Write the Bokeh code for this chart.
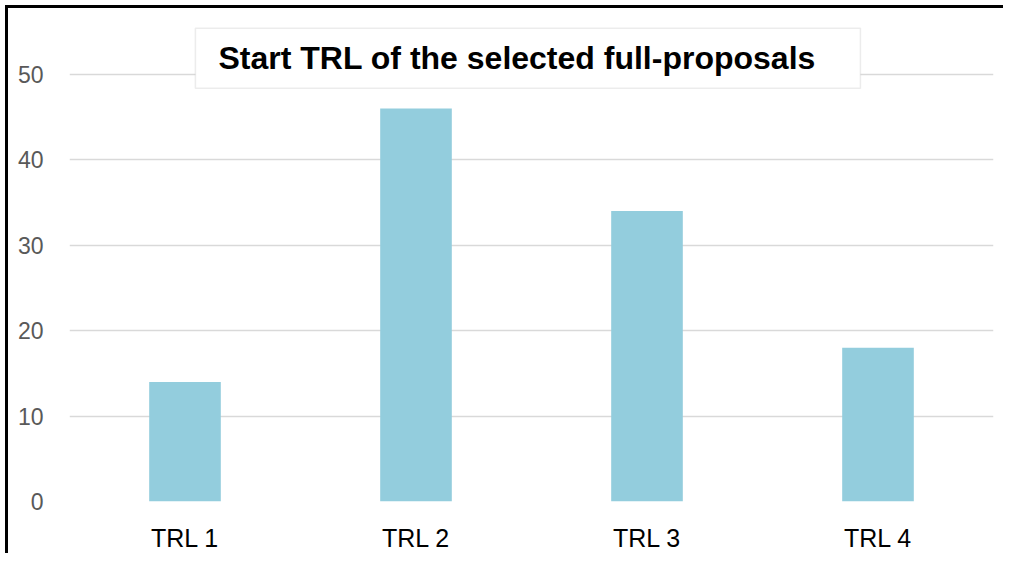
from bokeh.plotting import figure
from bokeh.models import Range1d, FactorRange, FixedTicker, BoxAnnotation, Label
from bokeh.embed import file_html
from bokeh.resources import INLINE

categories = ["TRL 1", "TRL 2", "TRL 3", "TRL 4"]
values = [14, 46, 34, 18]
y_ticks = [0, 10, 20, 30, 40, 50]
title_text = "Start TRL of the selected full-proposals"

p = figure(width=998, height=548, x_range=FactorRange(*categories, range_padding=0),
           y_range=Range1d(0, 56.3), output_backend="svg", toolbar_location=None,
           min_border_left=61, min_border_right=13, min_border_top=12, min_border_bottom=55)
p.styles = {"box-shadow": "-3px -3px 0px 0px black", "background-color": "white",
            "margin-left": "8px", "margin-top": "8px"}
p.outline_line_color = None
p.background_fill_color = "white"

p.vbar(x=categories, top=values, width=0.31, color="#93CDDD", line_color=None)

p.yaxis.ticker = FixedTicker(ticks=y_ticks)
p.yaxis.axis_line_color = None
p.yaxis.major_tick_line_color = None
p.yaxis.minor_tick_line_color = None
p.yaxis.major_label_text_font = "Liberation Sans"
p.yaxis.major_label_text_font_size = "23px"
p.yaxis.major_label_text_color = "#595959"
p.yaxis.major_label_standoff = 20

p.xaxis.axis_line_color = None
p.xaxis.major_tick_line_color = None
p.xaxis.major_label_text_font = "Liberation Sans"
p.xaxis.major_label_text_font_size = "25px"
p.xaxis.major_label_text_color = "#000000"
p.xaxis.major_label_standoff = 16

p.xgrid.grid_line_color = None
p.ygrid.grid_line_color = "#D9D9D9"
p.ygrid.grid_line_width = 1.5

box = BoxAnnotation(left=0.545, right=3.424, top=55.39, bottom=48.36,
                    fill_color="white", fill_alpha=1.0, line_color="#BFBFBF", line_width=1.5)
p.add_layout(box)
p.add_layout(Label(x=0.645, y=51.87, text=title_text, text_font="Liberation Sans",
                   text_font_style="bold", text_font_size="32px", text_color="black",
                   text_baseline="middle", text_align="left"))

open("out.html", "w").write(file_html(p, INLINE))
